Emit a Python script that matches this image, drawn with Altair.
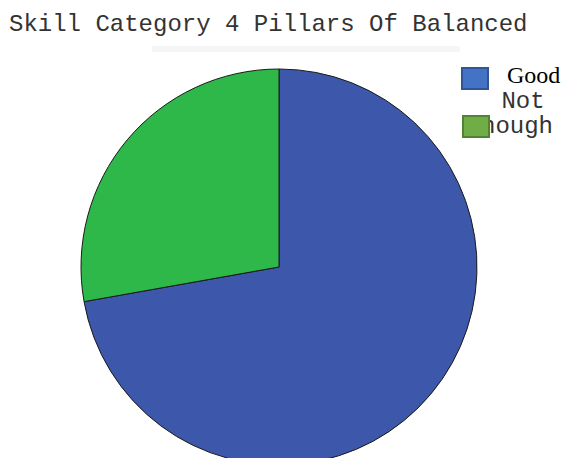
import altair as alt
import pandas as pd

categories = ["Good", "Not Enough"]
values = [72.2, 27.8]
pie_colors = ["#3D57AA", "#2EB84A"]
legend_colors = ["#4472C4", "#70AD47"]
legend_borders = ["#2F5597", "#548235"]
title_text = "Skill Category 4 Pillars Of Balanced"

df = pd.DataFrame({"category": categories, "value": values, "order": [0, 1]})

W, H = 564, 458

pie = alt.Chart(df).mark_arc(outerRadius=198, stroke="#1a1a1a", strokeWidth=1).encode(
    theta=alt.Theta("value:Q", stack=True),
    order=alt.Order("order:Q"),
    color=alt.Color("category:N", scale=alt.Scale(domain=categories, range=pie_colors), legend=None),
    x=alt.value(279),
    y=alt.value(267),
)

one = pd.DataFrame({"t": [title_text]})
title = alt.Chart(one).mark_text(
    font="Liberation Mono", fontSize=24, align="left", baseline="alphabetic", color="#333333"
).encode(text="t:N", x=alt.value(9), y=alt.value(31))

faint = alt.Chart(one).mark_rect(color="#f5f6f8").encode(
    x=alt.value(152), x2=alt.value(460), y=alt.value(46), y2=alt.value(52)
)

# legend
enough_txt = alt.Chart(pd.DataFrame({"t": ["Enough"]})).mark_text(
    font="Liberation Mono", fontSize=24, align="right", baseline="alphabetic", color="#333333"
).encode(text="t:N", x=alt.value(553), y=alt.value(133))

not_txt = alt.Chart(pd.DataFrame({"t": ["Not"]})).mark_text(
    font="Liberation Mono", fontSize=24, align="center", baseline="alphabetic", color="#333333"
).encode(text="t:N", x=alt.value(523), y=alt.value(108))

good_txt = alt.Chart(pd.DataFrame({"t": [categories[0]]})).mark_text(
    font="Liberation Serif", fontSize=24, align="left", baseline="alphabetic", color="#000000"
).encode(text="t:N", x=alt.value(507), y=alt.value(83))

sq_good = alt.Chart(one).mark_rect(
    fill=legend_colors[0], stroke=legend_borders[0], strokeWidth=2
).encode(x=alt.value(462), x2=alt.value(488), y=alt.value(68), y2=alt.value(89))

sq_not = alt.Chart(one).mark_rect(
    fill=legend_colors[1], stroke=legend_borders[1], strokeWidth=2
).encode(x=alt.value(463), x2=alt.value(489), y=alt.value(116), y2=alt.value(137))

chart = alt.layer(
    faint, pie, title, good_txt, not_txt, enough_txt, sq_good, sq_not
).properties(
    width=W, height=H, padding=0, autosize=alt.AutoSizeParams(type="none"), background="white"
).configure_view(stroke=None)

chart.save("out.html", embed_options={"renderer": "svg", "actions": False})
